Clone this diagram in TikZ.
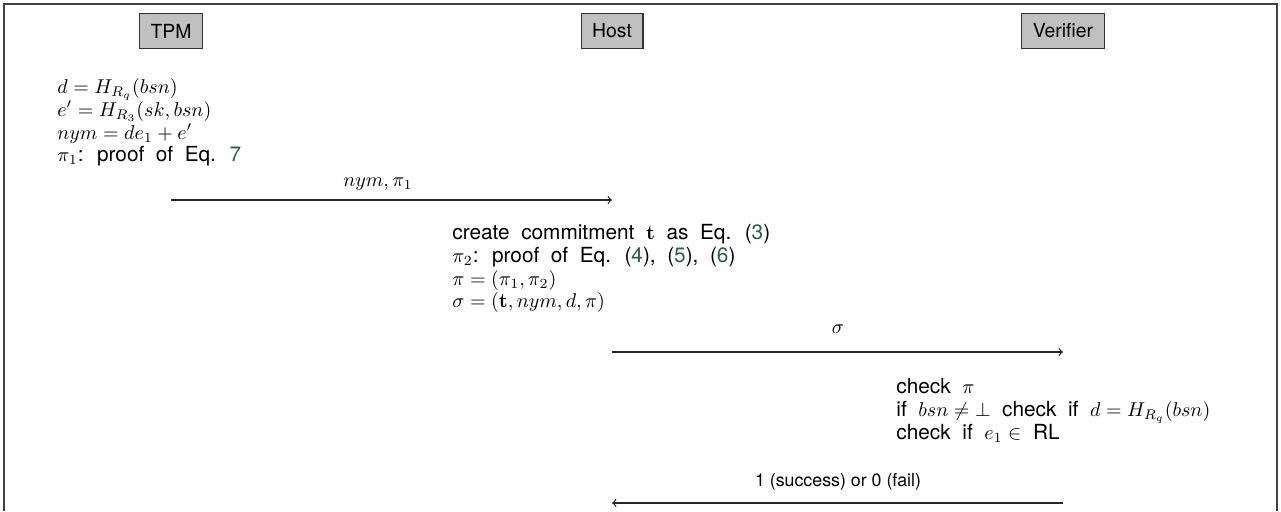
\documentclass[tikz,border=0pt]{standalone}
\usepackage[no-math]{fontspec}
\setmainfont[WordSpace=2]{TeX Gyre Heros}
\newfontfamily\lblfont{TeX Gyre Heros}
\usetikzlibrary{arrows}
\definecolor{refgreen}{RGB}{30,100,60}
\definecolor{boxgray}{RGB}{192,192,192}
\newcommand{\rf}[1]{\textcolor{refgreen}{#1}}
\tikzset{
  party/.style={draw=black!80, fill=boxgray, line width=0.6pt, minimum height=17.5pt, inner xsep=5.5pt, inner ysep=0pt, font=\lblfont\fontsize{9.7}{10.2}\selectfont},
  steps/.style={anchor=north west, align=left, inner sep=0pt, font=\fontsize{10.4}{11.4}\selectfont},
  msg/.style={->, line width=0.6pt, black!85},
  lbl/.style={anchor=base, inner sep=0pt, font=\lblfont\fontsize{8.9}{10.2}\selectfont}
}
\begin{document}
\begin{tikzpicture}[x=0.5pt, y=-0.5pt]
\useasboundingbox (0,0) rectangle (1281,511);
\draw[black!75, line width=0.6pt] (4,511) -- (4,4) -- (1277,4) -- (1277,511);
\node[party] (tpm) at (171,31) {TPM};
\node[party] (host) at (612,31) {Host};
\node[party] (ver) at (1063,31) {Verifier};
\node[steps] (s1) at (57,78) {$d = H_{R_q}(bsn)$\\ $e' = H_{R_3}(sk, bsn)$\\ $nym = de_1 + e'$\\ $\pi_1$: proof of Eq. \rf{7}};
\coordinate (a1s) at (171,200);
\coordinate (a1e) at (612,200);
\draw[msg] (a1s) -- (a1e);
\node[lbl, font=\fontsize{10.4}{10.2}\selectfont] (l1) at (378,186) {$nym, \pi_1$};
\node[steps] (s2) at (452,224) {create commitment $\mathbf{t}$ as Eq. (\rf{3})\\ $\pi_2$: proof of Eq. (\rf{4}), (\rf{5}), (\rf{6})\\ $\pi = (\pi_1, \pi_2)$\\ $\sigma = (\mathbf{t}, nym, d, \pi)$};
\coordinate (a2s) at (612,352);
\coordinate (a2e) at (1063,352);
\draw[msg] (a2s) -- (a2e);
\node[lbl, font=\fontsize{10.4}{10.2}\selectfont] (l2) at (838,333) {$\sigma$};
\node[steps] (s3) at (896,378) {check $\pi$\\ if $bsn \neq \bot$ check if $d = H_{R_q}(bsn)$\\ check if $e_1 \in$ RL};
\coordinate (a3s) at (1063,503);
\coordinate (a3e) at (612,503);
\draw[msg] (a3s) -- (a3e);
\node[lbl] (l3) at (838,486) {1 (success) or 0 (fail)};
\end{tikzpicture}
\end{document}
